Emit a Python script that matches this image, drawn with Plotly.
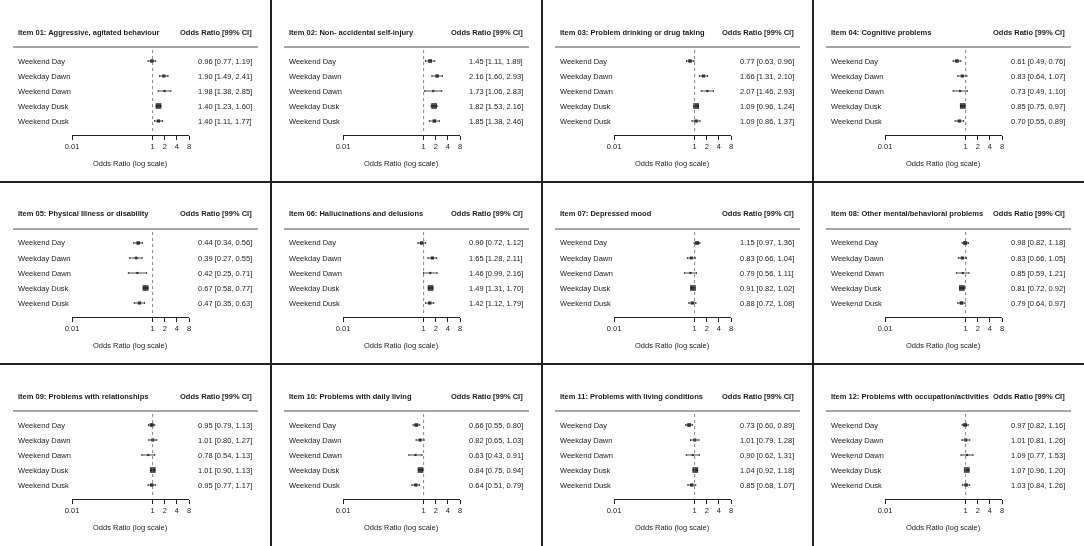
import math
import plotly.graph_objects as go

W, H = 1084, 546
PW, PH = 271, 182

rows = ["Weekend Day", "Weekday Dawn", "Weekend Dawn", "Weekday Dusk", "Weekend Dusk"]

titles = [
    "Item 01: Aggressive, agitated behaviour",
    "Item 02: Non- accidental self-injury",
    "Item 03: Problem drinking or drug taking",
    "Item 04: Cognitive problems",
    "Item 05: Physical Illness or disability",
    "Item 06: Hallucinations and delusions",
    "Item 07: Depressed mood",
    "Item 08: Other mental/behavioral problems",
    "Item 09: Problems with relationships",
    "Item 10: Problems with daily living",
    "Item 11: Problems with living conditions",
    "Item 12: Problems with occupation/activities",
]

odds = [
    [0.96, 1.90, 1.98, 1.40, 1.40],
    [1.45, 2.16, 1.73, 1.82, 1.85],
    [0.77, 1.66, 2.07, 1.09, 1.09],
    [0.61, 0.83, 0.73, 0.85, 0.70],
    [0.44, 0.39, 0.42, 0.67, 0.47],
    [0.90, 1.65, 1.46, 1.49, 1.42],
    [1.15, 0.83, 0.79, 0.91, 0.88],
    [0.98, 0.83, 0.85, 0.81, 0.79],
    [0.95, 1.01, 0.78, 1.01, 0.95],
    [0.66, 0.82, 0.63, 0.84, 0.64],
    [0.73, 1.01, 0.90, 1.04, 0.85],
    [0.97, 1.01, 1.09, 1.07, 1.03],
]
lower = [
    [0.77, 1.49, 1.38, 1.23, 1.11],
    [1.11, 1.60, 1.06, 1.53, 1.38],
    [0.63, 1.31, 1.46, 0.96, 0.86],
    [0.49, 0.64, 0.49, 0.75, 0.55],
    [0.34, 0.27, 0.25, 0.58, 0.35],
    [0.72, 1.28, 0.99, 1.31, 1.12],
    [0.97, 0.66, 0.56, 0.82, 0.72],
    [0.82, 0.66, 0.59, 0.72, 0.64],
    [0.79, 0.80, 0.54, 0.90, 0.77],
    [0.55, 0.65, 0.43, 0.75, 0.51],
    [0.60, 0.79, 0.62, 0.92, 0.68],
    [0.82, 0.81, 0.77, 0.96, 0.84],
]
upper = [
    [1.19, 2.41, 2.85, 1.60, 1.77],
    [1.89, 2.93, 2.83, 2.16, 2.46],
    [0.96, 2.10, 2.93, 1.24, 1.37],
    [0.76, 1.07, 1.10, 0.97, 0.89],
    [0.56, 0.55, 0.71, 0.77, 0.63],
    [1.12, 2.11, 2.16, 1.70, 1.79],
    [1.36, 1.04, 1.11, 1.02, 1.08],
    [1.18, 1.05, 1.21, 0.92, 0.97],
    [1.13, 1.27, 1.13, 1.13, 1.17],
    [0.80, 1.03, 0.91, 0.94, 0.79],
    [0.89, 1.28, 1.31, 1.18, 1.07],
    [1.16, 1.26, 1.53, 1.20, 1.26],
]

tick_vals = [0.01, 1, 2, 4, 8]
tick_text = ["0.01", "1", "2", "4", "8"]
header = "Odds Ratio [99% CI]"
axis_title = "Odds Ratio (log scale)"

FONT = "Liberation Sans, Arial, sans-serif"
FS = 7.5
TXT = "#1a1a1a"

fig = go.Figure()
annotations = []
shapes = []
layout = {}

def px_x(p):
    return p / W

def px_y(p):
    return 1 - p / H

ROW0 = 61.0
ROWSTEP = 15.0
n = len(rows)
yvals = [n - i for i in range(n)]
y_top = n + ROW0 / ROWSTEP
y_bot = 1 - (PH - ROW0 - ROWSTEP * (n - 1)) / ROWSTEP

def py_to_y(p):
    return n - (p - ROW0) / ROWSTEP

for k in range(12):
    r, c = divmod(k, 4)
    x0 = c * PW
    y0 = r * PH
    idx = k + 1
    xa = "xaxis" if idx == 1 else f"xaxis{idx}"
    ya = "yaxis" if idx == 1 else f"yaxis{idx}"
    xr = "x" if idx == 1 else f"x{idx}"
    yr = "y" if idx == 1 else f"y{idx}"

    o = odds[k]; lo = lower[k]; up = upper[k]
    w = [1.0 / (math.log(u) - math.log(l)) for u, l in zip(up, lo)]
    wmin, wmax = min(w), max(w)
    sizes = [2.2 + 3.6 * (wi - wmin) / (wmax - wmin) for wi in w]

    fig.add_trace(go.Scatter(
        x=o, y=yvals, xaxis=xr, yaxis=yr, mode="markers",
        marker=dict(symbol="square", size=sizes, color="black", line=dict(width=0)),
        error_x=dict(type="data", symmetric=False,
                     array=[u - v for u, v in zip(up, o)],
                     arrayminus=[v - l for v, l in zip(o, lo)],
                     color="black", thickness=0.7, width=1),
        showlegend=False, hoverinfo="skip", cliponaxis=False,
    ))

    layout[xa] = dict(
        domain=[px_x(x0 + 72), px_x(x0 + 189)], type="log",
        range=[math.log10(0.01), math.log10(8)],
        tickvals=tick_vals, ticktext=tick_text, ticks="outside", ticklen=4,
        tickwidth=1, tickcolor="#222", automargin=False,
        showline=True, linecolor="#222", linewidth=1, showgrid=False,
        zeroline=False, anchor="free", position=px_y(y0 + 135),
        tickfont=dict(family=FONT, size=FS, color=TXT),
        fixedrange=True,
    )
    layout[ya] = dict(
        domain=[px_y(y0 + PH), px_y(y0)], range=[y_bot, y_top], automargin=False,
        visible=False, showgrid=False, zeroline=False, fixedrange=True,
    )

    shapes.append(dict(type="line", xref=xr, yref=yr, x0=1, x1=1,
                       y0=py_to_y(50), y1=py_to_y(132),
                       line=dict(color="#666", width=0.8, dash="dot")))
    shapes.append(dict(type="line", xref="paper", yref="paper",
                       x0=px_x(x0 + 13), x1=px_x(x0 + 258),
                       y0=px_y(y0 + 47), y1=px_y(y0 + 47),
                       line=dict(color="#8a8a8a", width=1.5)))

    annotations.append(dict(text=f"<b>{titles[k]}</b>", xref="paper", yref="paper",
                            x=px_x(x0 + 16), y=px_y(y0 + 32), xanchor="left", yanchor="middle",
                            showarrow=False, font=dict(family=FONT, size=FS, color=TXT)))
    annotations.append(dict(text=f"<b>{header}</b>", xref="paper", yref="paper",
                            x=px_x(x0 + 254), y=px_y(y0 + 32), xanchor="right", yanchor="middle",
                            showarrow=False, font=dict(family=FONT, size=FS, color=TXT)))
    for i in range(n):
        annotations.append(dict(text=rows[i], xref="paper", yref=yr,
                                x=px_x(x0 + 16), y=yvals[i], xanchor="left", yanchor="middle",
                                showarrow=False, font=dict(family=FONT, size=FS, color=TXT)))
        annotations.append(dict(text=f"{o[i]:.2f} [{lo[i]:.2f}, {up[i]:.2f}]",
                                xref="paper", yref=yr,
                                x=px_x(x0 + 254), y=yvals[i], xanchor="right", yanchor="middle",
                                showarrow=False, font=dict(family=FONT, size=FS, color=TXT)))
    annotations.append(dict(text=axis_title, xref="paper", yref="paper",
                            x=px_x(x0 + 130.5), y=px_y(y0 + 163), xanchor="center", yanchor="middle",
                            showarrow=False, font=dict(family=FONT, size=FS, color=TXT)))

for xb in (PW, 2 * PW, 3 * PW):
    shapes.append(dict(type="line", xref="paper", yref="paper",
                       x0=px_x(xb), x1=px_x(xb), y0=0, y1=1,
                       line=dict(color="#222", width=2)))
for yb in (PH, 2 * PH):
    shapes.append(dict(type="line", xref="paper", yref="paper",
                       x0=0, x1=1, y0=px_y(yb), y1=px_y(yb),
                       line=dict(color="#222", width=2)))

fig.update_layout(
    template="none",
    width=W, height=H, margin=dict(l=0, r=0, t=0, b=0, pad=0),
    paper_bgcolor="white", plot_bgcolor="white",
    annotations=annotations, shapes=shapes, showlegend=False,
    **layout,
)

fig.write_html(
    "out.html",
    config={"displayModeBar": False},
    post_script=(
        "document.body.style.margin='0';"
        "document.body.style.overflow='hidden';"
        "document.querySelectorAll('.main-svg').forEach(function(s){s.style.willChange='transform';});"
    ),
)
